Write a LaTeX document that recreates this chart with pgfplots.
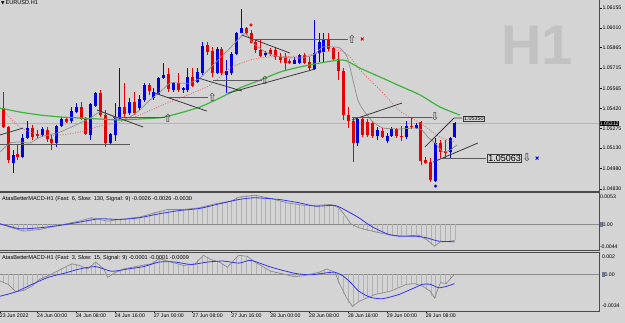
\documentclass[border=0pt]{standalone}
\usepackage{pgfplots}
\usepackage{pgfplotstable}
\pgfplotsset{compat=1.18}
\usepackage{fontspec}
\setmainfont{Liberation Sans}
\newfontfamily\dejavu{DejaVu Sans}
\definecolor{bg}{HTML}{D4D4D4}
\definecolor{cblue}{HTML}{0000E6}
\definecolor{cred}{HTML}{E60000}
\definecolor{magreen}{HTML}{3CB43C}
\definecolor{mared}{HTML}{F05A5A}
\definecolor{magray}{HTML}{8E8E8E}
\definecolor{tline}{HTML}{3A3A3A}
\definecolor{hline}{HTML}{5A5A5A}
\definecolor{framec}{HTML}{4A4A4A}
\definecolor{bidline}{HTML}{B4B4B4}
\definecolor{wm}{HTML}{C2C2C2}
\definecolor{macdblue}{HTML}{3434F0}
\definecolor{macdgray}{HTML}{8A8A8A}
\definecolor{histgray}{HTML}{B2B2B2}
\definecolor{zerogray}{HTML}{8C8C8C}
\definecolor{lvl}{HTML}{6E7890}
\newcommand\tk{\fontsize{5.2bp}{6bp}\selectfont}
\newcommand\lgf{\fontsize{5.6bp}{6.5bp}\selectfont}

\pgfplotstableread{
k lo hi low high
-1 1.05116 1.05284 1.05101 1.05299
2 1.05021 1.05079 1.04948 1.05116
4 1.05065 1.05204 1.05057 1.05233
5 1.05204 1.05277 1.05197 1.05328
8 1.05226 1.05270 1.05211 1.05284
11 1.05167 1.05292 1.05138 1.05299
12 1.05292 1.05343 1.05284 1.05358
14 1.05328 1.05401 1.05314 1.05431
15 1.05394 1.05431 1.05387 1.05460
18 1.05226 1.05453 1.05189 1.05460
19 1.05438 1.05533 1.05431 1.05541
22 1.05167 1.05233 1.05153 1.05240
23 1.05226 1.05350 1.05182 1.05460
24 1.05350 1.05431 1.05336 1.05716
26 1.05387 1.05467 1.05372 1.05497
28 1.05423 1.05489 1.05409 1.05519
29 1.05482 1.05592 1.05467 1.05606
31 1.05497 1.05541 1.05482 1.05570
32 1.05526 1.05643 1.05519 1.05650
33 1.05643 1.05665 1.05636 1.05753
35 1.05555 1.05606 1.05541 1.05614
37 1.05555 1.05570 1.05533 1.05577
38 1.05555 1.05650 1.05541 1.05716
40 1.05614 1.05687 1.05606 1.05716
41 1.05680 1.05877 1.05665 1.05907
44 1.05680 1.05855 1.05672 1.05870
46 1.05665 1.05694 1.05533 1.05775
47 1.05680 1.05819 1.05665 1.05833
48 1.05819 1.05972 1.05811 1.05980
49 1.05972 1.06009 1.05972 1.06148
54 1.05811 1.05826 1.05797 1.05841
60 1.05746 1.05775 1.05746 1.05797
61 1.05753 1.05811 1.05746 1.05819
64 1.05709 1.05826 1.05702 1.06068
65 1.05826 1.05907 1.05760 1.05972
66 1.05833 1.05929 1.05753 1.05972
73 1.05167 1.05343 1.05145 1.05350
77 1.05218 1.05262 1.05189 1.05284
79 1.05182 1.05218 1.05167 1.05240
80 1.05218 1.05270 1.05211 1.05284
83 1.05211 1.05292 1.05197 1.05328
85 1.05277 1.05299 1.05270 1.05314
89 1.04889 1.05167 1.04882 1.05204
92 1.05101 1.05204 1.05057 1.05211
93 1.05211 1.05314 1.05204 1.05321
}\upbars

\pgfplotstableread{
k lo hi low high
0 1.05284 1.05423 1.05277 1.05541
1 1.05043 1.05284 1.05021 1.05292
3 1.05065 1.05087 1.05043 1.05153
6 1.05211 1.05277 1.05189 1.05299
7 1.05218 1.05233 1.05204 1.05262
9 1.05197 1.05262 1.05175 1.05284
10 1.05167 1.05197 1.05116 1.05226
13 1.05321 1.05343 1.05314 1.05358
16 1.05343 1.05431 1.05336 1.05467
17 1.05233 1.05343 1.05226 1.05358
20 1.05372 1.05533 1.05358 1.05555
21 1.05167 1.05372 1.05138 1.05409
25 1.05380 1.05431 1.05358 1.05606
27 1.05387 1.05467 1.05372 1.05541
30 1.05548 1.05592 1.05519 1.05606
34 1.05563 1.05672 1.05541 1.05716
36 1.05555 1.05606 1.05541 1.05680
39 1.05584 1.05650 1.05577 1.05716
42 1.05833 1.05885 1.05811 1.05907
43 1.05680 1.05841 1.05650 1.05870
45 1.05680 1.05855 1.05665 1.05870
50 1.05972 1.06009 1.05958 1.06016
51 1.05899 1.05972 1.05899 1.05994
52 1.05848 1.05907 1.05826 1.05929
53 1.05804 1.05848 1.05797 1.05921
55 1.05819 1.05848 1.05804 1.05863
56 1.05797 1.05848 1.05775 1.05870
57 1.05775 1.05797 1.05753 1.05826
58 1.05753 1.05797 1.05702 1.05826
59 1.05753 1.05767 1.05746 1.05782
62 1.05753 1.05811 1.05746 1.05826
63 1.05716 1.05760 1.05702 1.05797
67 1.05855 1.05929 1.05841 1.05972
68 1.05782 1.05863 1.05767 1.05870
69 1.05694 1.05782 1.05628 1.05833
70 1.05372 1.05694 1.05336 1.05716
71 1.05328 1.05372 1.05277 1.05431
72 1.05167 1.05328 1.05028 1.05350
74 1.05226 1.05343 1.05211 1.05358
75 1.05226 1.05321 1.05211 1.05343
76 1.05218 1.05314 1.05204 1.05328
78 1.05211 1.05255 1.05204 1.05277
81 1.05218 1.05270 1.05204 1.05277
82 1.05211 1.05218 1.05182 1.05292
84 1.05284 1.05292 1.05270 1.05358
86 1.05035 1.05321 1.05006 1.05328
87 1.05021 1.05043 1.05014 1.05065
88 1.04896 1.05028 1.04882 1.05057
90 1.05101 1.05167 1.05057 1.05189
91 1.05094 1.05109 1.05057 1.05189
}\downbars

\pgfplotstableread{
k v
-1 0.0001
0 -0.0002
1 -0.0005
2 -0.0008
3 -0.0010
4 -0.0011
5 -0.0011
6 -0.0010
7 -0.0009
8 -0.0008
9 -0.0006
10 -0.0004
11 -0.0002
12 0.0000
13 0.0002
14 0.0003
15 0.0005
16 0.0007
17 0.0009
18 0.0011
19 0.0009
20 0.0007
21 0.0005
22 0.0006
23 0.0007
24 0.0008
25 0.0009
26 0.0010
27 0.0011
28 0.0012
29 0.0014
30 0.0017
31 0.0020
32 0.0022
33 0.0024
34 0.0025
35 0.0025
36 0.0025
37 0.0025
38 0.0026
39 0.0027
40 0.0027
41 0.0030
42 0.0032
43 0.0034
44 0.0035
45 0.0037
46 0.0038
47 0.0040
48 0.0045
49 0.0047
50 0.0048
51 0.0048
52 0.0048
53 0.0046
54 0.0045
55 0.0043
56 0.0041
57 0.0039
58 0.0036
59 0.0034
60 0.0033
61 0.0032
62 0.0032
63 0.0032
64 0.0032
65 0.0032
66 0.0033
67 0.0033
68 0.0031
69 0.0027
70 0.0013
71 0.0002
72 -0.0004
73 -0.0006
74 -0.0009
75 -0.0011
76 -0.0013
77 -0.0015
78 -0.0016
79 -0.0018
80 -0.0019
81 -0.0020
82 -0.0020
83 -0.0020
84 -0.0019
85 -0.0018
86 -0.0022
87 -0.0026
88 -0.0034
89 -0.0036
90 -0.0030
91 -0.0029
92 -0.0028
93 -0.0027
}\histA

\pgfplotstableread{
k v
-1 -0.0005
0 -0.0008
1 -0.0010
2 -0.0014
3 -0.0016
4 -0.0015
5 -0.0013
6 -0.0009
7 -0.0006
8 -0.0004
9 -0.0002
10 0.0000
11 0.0003
12 0.0005
13 0.0007
14 0.0009
15 0.0009
16 0.0007
17 0.0005
18 0.0008
19 0.0011
20 0.0007
21 -0.0001
22 -0.0002
23 0.0001
24 0.0004
25 0.0005
26 0.0006
27 0.0007
28 0.0008
29 0.0009
30 0.0009
31 0.0012
32 0.0014
33 0.0013
34 0.0011
35 0.0010
36 0.0009
37 0.0008
38 0.0009
39 0.0010
40 0.0013
41 0.0017
42 0.0015
43 0.0013
44 0.0011
45 0.0009
46 0.0007
47 0.0010
48 0.0016
49 0.0017
50 0.0016
51 0.0013
52 0.0010
53 0.0007
54 0.0005
55 0.0003
56 0.0002
57 0.0001
58 -0.0001
59 -0.0002
60 -0.0002
61 -0.0002
62 -0.0001
63 0.0000
64 0.0001
65 0.0002
66 0.0004
67 0.0003
68 0.0001
69 -0.0008
70 -0.0018
71 -0.0027
72 -0.0029
73 -0.0025
74 -0.0022
75 -0.0021
76 -0.0019
77 -0.0018
78 -0.0017
79 -0.0016
80 -0.0014
81 -0.0012
82 -0.0010
83 -0.0009
84 -0.0009
85 -0.0010
86 -0.0011
87 -0.0015
88 -0.0020
89 -0.0022
90 -0.0008
91 -0.0008
92 -0.0004
93 0.0000
}\histB

\pgfplotsset{
  panel/.style={scale only axis, width=599bp, xmin=-0.68, xmax=122.65,
    axis line style={draw=none}, xtick=\empty, ytick pos=right, yticklabel pos=right,
    tick style={draw=black, line width=0.5bp}, tick align=outside,
    scaled ticks=false,
    yticklabel style={font=\tk, inner sep=0.8bp},
    /pgf/number format/assume math mode=true, clip mode=individual},
  wick/.style={draw=none, no markers, forget plot, error bars/.cd, y dir=plus, y explicit,
    error mark=none, error bar style={draw=#1, solid, line width=0.9bp}},
  body/.style={draw=none, no markers, forget plot, error bars/.cd, y dir=plus, y explicit,
    error mark=none, error bar style={draw=#1, solid, line width=3bp}},
  tl/.style={tline, line width=0.8bp, forget plot},
  hl/.style={hline, line width=0.8bp, forget plot},
  glyph/.style={draw=none, no markers, forget plot, nodes near coords={\dejavu\fontsize{11bp}{11bp}\selectfont #1},
    every node near coord/.append style={anchor=center, inner sep=0, text=tline}},
}

\begin{document}
\begin{tikzpicture}
\useasboundingbox (0,0) rectangle (625bp,-323bp);
\fill[bg] (0,0) rectangle (625bp,-323bp);

% ---------------- main price window
\begin{axis}[panel, at={(0,0)}, anchor=north west, height=191bp,
  ymin=1.04816, ymax=1.06214,
  ytick={1.04830,1.04980,1.05130,1.05275,1.05420,1.05565,1.05715,1.05865,1.06010,1.06155},
  yticklabels={1.04830,1.04980,1.05130,1.05275,1.05420,1.05565,1.05715,1.05865,1.06010,1.06155},
  major tick length=2.5bp]
\node[font=\bfseries\fontsize{56bp}{56bp}\selectfont, text=wm] at (rel axis cs:0.8965,0.762) {H1};
\addplot[bidline, line width=0.6bp, forget plot] coordinates {(-1,1.05312) (123,1.05312)};
% candles
\addplot[wick=cblue] table[x=k, y=low, y error expr=\thisrow{high}-\thisrow{low}] {\upbars};
\addplot[wick=cred] table[x=k, y=low, y error expr=\thisrow{high}-\thisrow{low}] {\downbars};
\addplot[body=cblue] table[x=k, y=lo, y error expr=\thisrow{hi}-\thisrow{lo}] {\upbars};
\addplot[body=cred] table[x=k, y=lo, y error expr=\thisrow{hi}-\thisrow{lo}] {\downbars};
% moving averages
\addplot[magreen, line width=1.2bp, smooth, tension=0.4] coordinates {(-0.7,1.05423) (3.4,1.05394) (7.6,1.05372) (11.7,1.05358) (15.8,1.05350) (19.9,1.05343) (24.0,1.05336) (28.1,1.05343) (32.3,1.05352) (34.3,1.05368) (36.4,1.05387) (40.5,1.05431) (44.6,1.05497) (48.7,1.05570) (52.9,1.05628) (57.0,1.05687) (61.1,1.05724) (65.2,1.05753) (69.3,1.05775) (70.8,1.05767) (73.4,1.05716) (77.6,1.05650) (81.7,1.05584) (85.8,1.05519) (89.9,1.05431) (94.0,1.05372)};
\addplot[mared, line width=0.7bp, dash pattern=on 1bp off 1.5bp, smooth, tension=0.4] coordinates {(0.35,1.05387) (3.4,1.05284) (5.5,1.05248) (7.6,1.05226) (11.7,1.05226) (15.8,1.05248) (19.9,1.05292) (24.0,1.05321) (28.1,1.05372) (32.3,1.05438) (36.4,1.05497) (40.5,1.05555) (42.6,1.05592) (44.6,1.05650) (46.7,1.05716) (50.8,1.05775) (54.9,1.05797) (61.1,1.05804) (65.2,1.05826) (69.3,1.05848) (71.4,1.05797) (73.4,1.05702) (77.6,1.05555) (81.7,1.05401) (85.8,1.05314) (89.9,1.05211) (93.0,1.05175)};
\addplot[magray, line width=0.7bp, smooth, tension=0.3] coordinates {(-0.7,1.05101) (1.4,1.05167) (3.4,1.05175) (5.5,1.05167) (7.6,1.05211) (11.7,1.05248) (15.8,1.05314) (17.9,1.05350) (19.9,1.05394) (22.0,1.05372) (24.0,1.05336) (26.1,1.05358) (28.1,1.05409) (30.2,1.05482) (32.3,1.05541) (34.3,1.05606) (36.4,1.05606) (38.4,1.05606) (40.5,1.05643) (42.6,1.05716) (44.6,1.05789) (46.7,1.05863) (49.8,1.05972) (51.4,1.05899) (54.3,1.05826) (57.0,1.05797) (61.1,1.05789) (63.8,1.05811) (65.8,1.05870) (67.9,1.05870) (69.3,1.05863) (70.8,1.05797) (72.0,1.05628) (73.0,1.05482) (74.1,1.05409) (76.1,1.05321) (78.2,1.05277) (81.7,1.05270) (84.8,1.05277) (86.2,1.05262) (87.4,1.05211) (88.9,1.05167) (90.5,1.05101) (92.0,1.05116) (93.4,1.05153)};
% trend lines
\addplot[tl] coordinates {(-0.7,1.05226) (4.1,1.05277)};
\addplot[hl] coordinates {(-0.7,1.05160) (26.1,1.05160)};
\addplot[tl] coordinates {(19.3,1.05409) (28.8,1.05284)};
\addplot[hl] coordinates {(22.6,1.05358) (33.2,1.05358)};
\addplot[hl] coordinates {(33.9,1.05504) (42.1,1.05504)};
\addplot[tl] coordinates {(31.2,1.05533) (41.9,1.05401)};
\addplot[tl] coordinates {(40.1,1.05643) (49.1,1.05548)};
\addplot[tl] coordinates {(46.3,1.05533) (64.2,1.05709)};
\addplot[tl] coordinates {(49.1,1.05958) (59.0,1.05826)};
\addplot[hl] coordinates {(50.8,1.05929) (71.0,1.05929)};
\addplot[hl] coordinates {(43.2,1.05628) (53.3,1.05628)};
\addplot[tl] coordinates {(71.8,1.05336) (82.1,1.05460)};
\addplot[hl] coordinates {(71.8,1.05358) (88.3,1.05358)};
\addplot[tl] coordinates {(86.8,1.05138) (92.8,1.05350) (94.4,1.05350)};
\addplot[tl] coordinates {(88.5,1.05028) (97.7,1.05167)};
\addplot[hl] coordinates {(89.9,1.05057) (99.4,1.05057)};
% arrows and marks
\addplot[glyph=⇧] coordinates {(33.9,1.05350) (43.0,1.05504) (53.9,1.05628) (71.8,1.05929)};
\addplot[glyph=⇩] coordinates {(88.9,1.05358) (107.8,1.05057)};
\addplot[only marks, mark=x, mark size=2bp, cred, line width=0.9bp, forget plot] coordinates {(73.9,1.05929)};
\addplot[only marks, mark=x, mark size=2bp, cblue, line width=0.9bp, forget plot] coordinates {(109.9,1.05057)};
\addplot[only marks, mark=*, mark size=1.3bp, cred, forget plot] coordinates {(51.0,1.06031)};
\addplot[only marks, mark=*, mark size=1.3bp, cblue, forget plot] coordinates {(89.0,1.04852)};
% labels
\node[draw=tline, fill=bg, font=\fontsize{5.4bp}{6bp}\selectfont, inner sep=0.7bp] at (axis cs:96.9,1.05346) {1.05350};
\node[draw=tline, fill=bg, font=\fontsize{9bp}{10bp}\selectfont, inner sep=0.6bp] at (axis cs:103.2,1.05057) {1.05063};
\node[anchor=north west, inner sep=0, font=\fontsize{5.6bp}{6.5bp}\selectfont, xshift=1bp, yshift=-0.8bp] at (rel axis cs:0,1) {{\dejavu\fontsize{4.5bp}{5bp}\selectfont ▼}\,EURUSD.H1};
\node[fill=black, text=white, font=\tk, inner sep=0.6bp, anchor=west] at (axis cs:122.65,1.05312) {1.05312};
\draw[framec, line width=1bp] (rel axis cs:0,0) -- (rel axis cs:1,0) -- (rel axis cs:1,1);
\end{axis}

% ---------------- MACD 6/130/9
\begin{axis}[panel, at={(0,-192.5bp)}, anchor=north west, height=58bp,
  ymin=-0.0044, ymax=0.0053,
  ytick={-0.00381,0,0.0046}, yticklabels={-0.0044,{\textcolor{lvl}{\rule[-0.6bp]{2.6bp}{5bp}}0.00},0.0053},
  major tick length=0pt]
\addplot[zerogray, line width=0.6bp, forget plot] coordinates {(-1,0) (123,0)};
\addplot[ycomb, histgray, line width=0.35bp] table[x=k, y=v] {\histA};
\addplot[macdgray, line width=0.7bp] coordinates {(-0.7,0.00007) (1.8,-0.00060) (4.2,-0.00116) (7.5,-0.00088) (11.6,-0.00016) (15.7,0.00051) (18.2,0.00108) (21.5,0.00051) (23.9,0.00079) (28.0,0.00118) (30.5,0.00174) (33.8,0.00246) (37.1,0.00246) (40.4,0.00275) (43.6,0.00341) (46.9,0.00385) (48.5,0.00452) (51.8,0.00485) (55.1,0.00430) (58.4,0.00358) (61.7,0.00318) (65.0,0.00318) (67.4,0.00330) (69.1,0.00275) (70.7,0.00108) (71.5,0.00007) (73.2,-0.00060) (76.5,-0.00126) (79.7,-0.00183) (83.0,-0.00200) (85.5,-0.00183) (87.1,-0.00255) (88.8,-0.00367) (90.0,-0.00293) (91.2,-0.00293) (92.9,-0.00272)};
\addplot[macdblue, line width=0.8bp, smooth, tension=0.4] coordinates {(-0.7,0.00007) (3.4,-0.00076) (7.5,-0.00060) (11.6,-0.00021) (15.7,0.00034) (19.8,0.00091) (23.9,0.00079) (28.0,0.00108) (32.1,0.00174) (36.3,0.00229) (40.4,0.00263) (44.5,0.00341) (48.5,0.00413) (51.8,0.00442) (56.8,0.00413) (60.9,0.00358) (64.2,0.00301) (68.3,0.00313) (70.8,0.00218) (73.2,0.00108) (75.7,-0.00033) (79.0,-0.00160) (81.4,-0.00200) (84.7,-0.00200) (87.1,-0.00227) (89.6,-0.00283) (92.9,-0.00293)};
\node[anchor=north west, inner sep=0, font=\lgf, xshift=2bp, yshift=-3.5bp] at (rel axis cs:0,1) {AtasBetterMACD-H1 (Fast: 6, Slow: 130, Signal: 9) -0.0026 -0.0026 -0.0030};
\draw[framec, line width=1bp] (rel axis cs:0,0) -- (rel axis cs:1,0) -- (rel axis cs:1,1) -- (rel axis cs:0,1);
\end{axis}

% ---------------- MACD 3/15/9
\begin{axis}[panel, at={(0,-252.5bp)}, anchor=north west, height=58.5bp,
  ymin=-0.0034, ymax=0.002,
  ytick={-0.00294,0,0.00158}, yticklabels={-0.0034,{\textcolor{lvl}{\rule[-0.6bp]{2.6bp}{5bp}}0.00},0.002},
  xtick={-0.68,7,15,23,31,39,47,55,63,71,79,87}, xtick pos=left,
  xticklabels={23 Jun 2022,24 Jun 00:00,24 Jun 08:00,24 Jun 16:00,27 Jun 00:00,27 Jun 08:00,27 Jun 16:00,28 Jun 00:00,28 Jun 08:00,28 Jun 16:00,29 Jun 00:00,29 Jun 08:00},
  xticklabel style={font=\tk, anchor=north west, inner sep=0.5bp, xshift=-0.8bp, yshift=-0.3bp},
  x tick style={draw=black, line width=0.5bp},
  major tick length=2bp, y tick style={draw=none}]
\addplot[zerogray, line width=0.6bp, forget plot] coordinates {(-1,0) (123,0)};
\addplot[ycomb, histgray, line width=0.35bp] table[x=k, y=v] {\histB};
\addplot[macdgray, line width=0.7bp] coordinates {(-0.7,-0.00062) (1.0,-0.00094) (2.6,-0.00163) (4.2,-0.00150) (5.9,-0.00110) (7.5,-0.00046) (9.2,-0.00015) (11.6,0.00039) (14.1,0.00096) (15.7,0.00080) (17.4,0.00048) (19.0,0.00112) (20.7,0.00048) (21.5,-0.00030) (23.1,0.00017) (24.8,0.00048) (27.2,0.00070) (30.5,0.00096) (32.1,0.00143) (34.6,0.00112) (37.1,0.00080) (39.5,0.00096) (41.2,0.00174) (42.8,0.00134) (44.5,0.00112) (46.1,0.00065) (48.5,0.00174) (50.2,0.00165) (51.8,0.00112) (55.1,0.00027) (58.4,-0.00006) (60.0,-0.00024) (61.7,-0.00015) (65.0,0.00017) (66.6,0.00048) (68.3,0.00017) (69.1,-0.00077) (70.7,-0.00220) (71.9,-0.00299) (73.2,-0.00252) (74.8,-0.00220) (76.5,-0.00188) (79.7,-0.00157) (83.0,-0.00094) (84.7,-0.00087) (86.3,-0.00110) (87.9,-0.00157) (88.8,-0.00220) (90.0,-0.00077) (91.2,-0.00087) (92.9,0.00001)};
\addplot[macdblue, line width=0.8bp, smooth, tension=0.4] coordinates {(-0.7,-0.00204) (2.6,-0.00163) (5.9,-0.00094) (9.2,-0.00030) (12.5,0.00008) (15.7,0.00048) (19.0,0.00070) (22.3,0.00027) (25.6,0.00048) (28.9,0.00070) (32.1,0.00112) (35.4,0.00112) (38.7,0.00089) (42.0,0.00112) (45.3,0.00121) (48.5,0.00102) (51.0,0.00127) (55.1,0.00065) (60.0,0.00008) (63.3,-0.00006) (66.6,0.00013) (68.3,0.00017) (69.9,-0.00015) (71.5,-0.00077) (73.2,-0.00157) (75.6,-0.00214) (78.1,-0.00226) (81.4,-0.00188) (84.7,-0.00125) (86.3,-0.00094) (87.9,-0.00094) (89.6,-0.00125) (91.2,-0.00113) (92.9,-0.00087)};
\node[anchor=north west, inner sep=0, font=\lgf, xshift=2bp, yshift=-3bp] at (rel axis cs:0,1) {AtasBetterMACD-H1 (Fast: 3, Slow: 15, Signal: 9) -0.0001 -0.0001 -0.0009};
\draw[framec, line width=1bp] (rel axis cs:0,0) -- (rel axis cs:1,0) -- (rel axis cs:1,1) -- (rel axis cs:0,1);
\end{axis}
\end{tikzpicture}
\end{document}
